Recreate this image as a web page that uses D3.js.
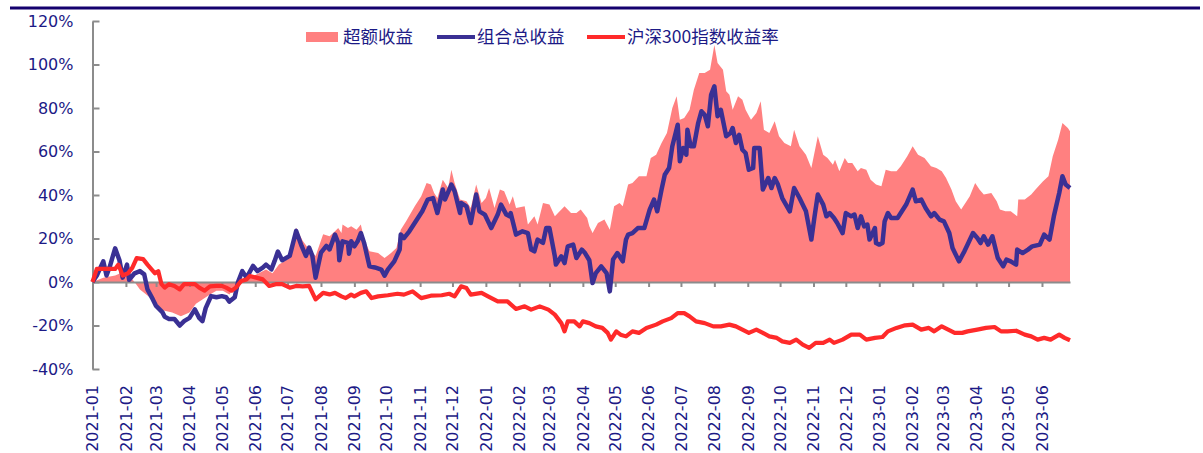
<!DOCTYPE html>
<html>
<head>
<meta charset="utf-8">
<script src="https://cdn.jsdelivr.net/npm/d3@7"></script>
<style>
  body { margin: 0; background: #fff; }
  #graphicContainer { width: 1203px; height: 453px; overflow: hidden; }
  .tickLabel { font-family: "DejaVu Sans", sans-serif; font-size: 16px; fill: #1c1a86; }
  .keyText { font-family: "Microsoft YaHei", "Noto Sans CJK SC", sans-serif; font-size: 17.5px; fill: #1c1a86; }
</style>
</head>
<body>
<div id="graphicContainer"></div>
<script>

// 超额收益 (area), %
const excess = [
  ["2021-01-01",0],["2021-01-11",2],["2021-01-22",3],["2021-01-29",4.5],["2021-02-04",3],["2021-02-09",0],
  ["2021-02-14",-3.4],["2021-02-23",-7],["2021-03-01",-9.5],["2021-03-07",-13],["2021-03-16",-14],["2021-03-24",-15.7],
  ["2021-04-01",-14],["2021-04-07",-10],["2021-04-13",-8],["2021-04-20",-5.7],["2021-04-26",-4],["2021-05-02",-4],
  ["2021-05-08",-5.7],["2021-05-14",-2],["2021-05-20",0],["2021-05-24",1],["2021-06-02",3.5],["2021-06-11",5.8],
  ["2021-06-17",4],["2021-06-23",8],["2021-07-03",11],["2021-07-09",25],["2021-07-15",19],["2021-07-21",15],
  ["2021-07-27",12],["2021-08-03",22],["2021-08-09",21],["2021-08-14",23.3],["2021-08-17",24.8],["2021-08-20",22.5],
  ["2021-08-21",26.4],["2021-08-26",24.8],["2021-08-29",25.6],["2021-09-03",24],["2021-09-07",26.4],["2021-09-10",19.5],
  ["2021-09-15",14.1],["2021-09-23",13.3],["2021-09-29",11],["2021-10-05",13.3],["2021-10-10",15.6],["2021-10-14",24],
  ["2021-10-19",27.9],["2021-10-27",34.8],["2021-11-02",39.4],["2021-11-07",45.5],["2021-11-11",44.8],["2021-11-14",40.9],
  ["2021-11-17",38.6],["2021-11-22",47],["2021-11-27",43.2],["2021-11-30",51.6],["2021-12-03",45.5],["2021-12-08",37.9],
  ["2021-12-14",37.1],["2021-12-18",34],["2021-12-23",44.8],["2021-12-28",36.3],["2022-01-01",38.6],["2022-01-04",43.2],
  ["2022-01-09",34],["2022-01-14",42.5],["2022-01-18",41.7],["2022-01-23",35.6],["2022-01-26",39.4],["2022-01-29",34],
  ["2022-02-06",34.8],["2022-02-09",26.4],["2022-02-15",30.2],["2022-02-18",26.4],["2022-02-23",36.3],["2022-03-01",35.6],
  ["2022-03-06",30.2],["2022-03-15",34.8],["2022-03-21",31.7],["2022-03-26",31.7],["2022-03-30",33.3],["2022-04-05",29.4],
  ["2022-04-07",25.6],["2022-04-10",22.5],["2022-04-15",27.1],["2022-04-21",28.7],["2022-04-26",24],["2022-04-30",34.8],
  ["2022-05-05",36.3],["2022-05-08",34.8],["2022-05-13",44.8],["2022-05-17",45.5],["2022-05-23",48.6],["2022-05-30",48.6],
  ["2022-06-03",57],["2022-06-08",58.5],["2022-06-13",63.9],["2022-06-18",68.5],["2022-06-23",80],["2022-06-27",85.4],
  ["2022-06-30",74.6],["2022-07-04",75.4],["2022-07-09",79.2],["2022-07-13",88.4],["2022-07-18",96.1],["2022-07-23",96.1],
  ["2022-07-28",97.6],["2022-08-01",109],["2022-08-04",100.7],["2022-08-09",97.6],["2022-08-12",87.7],["2022-08-15",86.1],
  ["2022-08-18",79.2],["2022-08-23",85.4],["2022-08-27",83.8],["2022-08-30",79.2],["2022-09-04",74.6],["2022-09-09",77.7],
  ["2022-09-13",83.1],["2022-09-16",70],["2022-09-21",68.5],["2022-09-26",73.9],["2022-09-30",67],["2022-10-05",63.9],
  ["2022-10-11",62.4],["2022-10-14",70],["2022-10-19",62.4],["2022-10-25",58.5],["2022-10-30",52.4],["2022-11-05",67],
  ["2022-11-10",58.5],["2022-11-14",57],["2022-11-19",53.9],["2022-11-21",56.2],["2022-11-25",50.9],["2022-11-30",57],
  ["2022-12-03",54.7],["2022-12-07",54.7],["2022-12-12",50.9],["2022-12-15",52.4],["2022-12-20",51.6],["2022-12-24",47],
  ["2022-12-29",44.8],["2023-01-03",44],["2023-01-07",51.6],["2023-01-12",50.9],["2023-01-17",50.9],["2023-01-21",53.2],
  ["2023-01-27",57.8],["2023-02-01",62.4],["2023-02-06",58.5],["2023-02-12",57],["2023-02-18",53.2],["2023-02-23",52.4],
  ["2023-02-28",50.9],["2023-03-04",47.8],["2023-03-09",42.5],["2023-03-13",37.1],["2023-03-18",33.3],["2023-03-23",37.1],
  ["2023-03-26",39.4],["2023-03-31",45.5],["2023-04-04",42.5],["2023-04-08",40.2],["2023-04-15",40.9],["2023-04-20",37.1],
  ["2023-04-23",33.3],["2023-04-28",32.5],["2023-05-03",32.5],["2023-05-09",30.2],["2023-05-10",37.9],["2023-05-16",37.9],
  ["2023-05-22",40.2],["2023-05-26",42.5],["2023-06-02",46.3],["2023-06-07",48.6],["2023-06-11",57.8],["2023-06-16",65.4],
  ["2023-06-20",73.1],["2023-06-25",70.8],["2023-06-27",69.3]
]

// 组合总收益, %
const portfolio = [
  ["2021-01-01",0],["2021-01-05",3],["2021-01-11",9.5],["2021-01-14",3],["2021-01-17",7],["2021-01-22",15.5],
  ["2021-01-26",10],["2021-01-29",2],["2021-02-02",8],["2021-02-04",1],["2021-02-09",4],["2021-02-14",5],
  ["2021-02-18",3.5],["2021-02-21",-3.4],["2021-02-26",-8],["2021-03-01",-11],["2021-03-07",-14],["2021-03-09",-16],
  ["2021-03-13",-17],["2021-03-18",-17],["2021-03-23",-20],["2021-03-27",-18],["2021-04-01",-16.5],["2021-04-06",-12.6],
  ["2021-04-10",-16.5],["2021-04-13",-18],["2021-04-16",-12],["2021-04-21",-6.5],["2021-04-26",-7],["2021-05-01",-6.5],
  ["2021-05-05",-7],["2021-05-08",-9],["2021-05-13",-7],["2021-05-16",0],["2021-05-20",5],["2021-05-24",2],
  ["2021-05-30",7.4],["2021-06-03",5],["2021-06-08",6.6],["2021-06-11",8],["2021-06-16",5.8],["2021-06-19",9.7],
  ["2021-06-22",14],["2021-06-26",10],["2021-07-03",12],["2021-07-09",23.5],["2021-07-14",16.6],["2021-07-18",12],
  ["2021-07-21",15.8],["2021-07-24",12],["2021-07-27",2],["2021-08-01",13.5],["2021-08-06",16.6],["2021-08-09",15],
  ["2021-08-14",21.8],["2021-08-17",18],["2021-08-18",10],["2021-08-21",18.7],["2021-08-26",18],["2021-08-27",13],
  ["2021-08-29",18.7],["2021-09-01",16.4],["2021-09-04",18.7],["2021-09-07",22.5],["2021-09-10",18],["2021-09-15",7.2],
  ["2021-09-20",6.7],["2021-09-26",5.7],["2021-09-29",2.9],["2021-10-02",5.7],["2021-10-08",9.5],["2021-10-13",14.9],
  ["2021-10-14",21.8],["2021-10-17",20.2],["2021-10-22",23.3],["2021-10-28",27.9],["2021-10-31",30.2],["2021-11-03",32.5],
  ["2021-11-08",37.9],["2021-11-13",38.6],["2021-11-17",31.7],["2021-11-22",42.5],["2021-11-24",37.9],["2021-11-30",44.8],
  ["2021-12-03",41.7],["2021-12-08",31.7],["2021-12-09",36.3],["2021-12-14",34.8],["2021-12-18",27.1],["2021-12-23",40.2],
  ["2021-12-26",32.5],["2021-12-31",31],["2022-01-06",24.8],["2022-01-12",31],["2022-01-15",35.6],["2022-01-20",31],
  ["2022-01-23",30.2],["2022-01-24",31.7],["2022-01-29",21.8],["2022-02-04",23.3],["2022-02-09",22.5],["2022-02-12",14.9],
  ["2022-02-15",14.1],["2022-02-18",19.5],["2022-02-23",18],["2022-02-26",24.8],["2022-03-01",24.8],["2022-03-06",11.8],
  ["2022-03-07",8],["2022-03-12",11.8],["2022-03-15",8.7],["2022-03-18",16.4],["2022-03-23",17.2],["2022-03-26",11],
  ["2022-03-31",14.9],["2022-04-03",13.3],["2022-04-07",10],["2022-04-10",-0.5],["2022-04-13",4.1],["2022-04-18",7.2],
  ["2022-04-23",4.1],["2022-04-26",-4.3],["2022-04-29",10.3],["2022-05-03",13.3],["2022-05-08",9.5],["2022-05-11",19.5],
  ["2022-05-13",21.8],["2022-05-17",22.5],["2022-05-22",24.8],["2022-05-28",24.8],["2022-06-02",33.3],["2022-06-06",37.9],
  ["2022-06-09",32.5],["2022-06-13",42.5],["2022-06-16",49.3],["2022-06-20",52.4],["2022-06-23",62.4],["2022-06-28",72.3],
  ["2022-06-30",55.5],["2022-07-03",61.6],["2022-07-06",58.5],["2022-07-07",70],["2022-07-10",62.4],["2022-07-13",62.4],
  ["2022-07-17",73.1],["2022-07-20",78.5],["2022-07-23",76.9],["2022-07-26",71.6],["2022-07-29",86.1],["2022-08-01",90],
  ["2022-08-04",76.2],["2022-08-07",79.2],["2022-08-12",67],["2022-08-16",68.5],["2022-08-18",70.8],["2022-08-21",63.9],
  ["2022-08-24",67.7],["2022-08-27",60.8],["2022-08-30",59.3],["2022-09-02",51.6],["2022-09-06",52.4],["2022-09-07",61.6],
  ["2022-09-12",61.6],["2022-09-15",42.5],["2022-09-20",47.8],["2022-09-23",43.2],["2022-09-26",47.8],["2022-09-29",44.8],
  ["2022-10-03",38.6],["2022-10-10",32.5],["2022-10-14",43.2],["2022-10-19",38.6],["2022-10-25",32.5],["2022-10-30",19.5],
  ["2022-11-02",30.2],["2022-11-05",40.2],["2022-11-10",35.6],["2022-11-13",30.2],["2022-11-16",31.7],["2022-11-20",29.4],
  ["2022-11-23",27.1],["2022-11-28",22.5],["2022-12-01",31.7],["2022-12-06",30.2],["2022-12-09",31],["2022-12-12",24.8],
  ["2022-12-15",30.2],["2022-12-18",25.6],["2022-12-21",26.4],["2022-12-23",19.5],["2022-12-28",24.8],["2022-12-29",17.9],
  ["2023-01-01",17.2],["2023-01-04",17.9],["2023-01-06",27.9],["2023-01-09",31.7],["2023-01-12",29.4],["2023-01-18",29.4],
  ["2023-01-26",35.6],["2023-02-01",42.5],["2023-02-04",37.1],["2023-02-09",37.9],["2023-02-13",34],["2023-02-18",30.2],
  ["2023-02-21",31.7],["2023-02-26",28.7],["2023-03-02",27.9],["2023-03-07",22.5],["2023-03-10",15.6],["2023-03-16",9.5],
  ["2023-03-21",14.1],["2023-03-24",17.2],["2023-03-29",22.5],["2023-04-02",20.2],["2023-04-05",17.9],["2023-04-08",21],
  ["2023-04-12",17.2],["2023-04-16",21],["2023-04-21",11],["2023-04-26",7.2],["2023-04-29",10.3],["2023-05-03",9.5],
  ["2023-05-08",8],["2023-05-09",14.9],["2023-05-14",13.3],["2023-05-19",14.9],["2023-05-23",16.4],["2023-05-30",17.2],
  ["2023-06-03",21.8],["2023-06-08",19.5],["2023-06-12",30.2],["2023-06-17",40.9],["2023-06-20",48.6],["2023-06-23",44.8],
  ["2023-06-27",43.2]
]

// 沪深300指数收益率, %
const csi300 = [
  ["2021-01-01",0],["2021-01-05",6],["2021-01-11",6],["2021-01-15",6],["2021-01-22",6],["2021-01-25",8],
  ["2021-01-29",3],["2021-02-03",4],["2021-02-07",6.6],["2021-02-11",11],["2021-02-17",10.5],["2021-02-21",8],
  ["2021-02-28",4],["2021-03-03",5],["2021-03-06",-1],["2021-03-09",-2.6],["2021-03-13",-1],["2021-03-18",-1.8],
  ["2021-03-23",-3.4],["2021-03-27",-1],["2021-04-01",-1],["2021-04-06",-1],["2021-04-10",-2.6],["2021-04-15",-4],
  ["2021-04-20",-2],["2021-04-26",-1.8],["2021-05-01",-1.8],["2021-05-05",-2.6],["2021-05-10",-4],["2021-05-14",-2.6],
  ["2021-05-19",0.5],["2021-05-24",1.2],["2021-05-27",2.8],["2021-06-02",2],["2021-06-08",1.2],["2021-06-14",-1.8],
  ["2021-06-20",-1],["2021-06-26",-1],["2021-07-03",-2.6],["2021-07-09",-1.8],["2021-07-15",-2],["2021-07-21",-1.8],
  ["2021-07-27",-8],["2021-08-03",-5],["2021-08-09",-5.7],["2021-08-14",-5],["2021-08-20",-6.6],["2021-08-24",-7.4],
  ["2021-08-29",-5.8],["2021-09-01",-6.6],["2021-09-07",-5],["2021-09-12",-4.3],["2021-09-17",-7.4],["2021-09-23",-6.6],
  ["2021-10-02",-6.1],["2021-10-11",-5.4],["2021-10-17",-5.8],["2021-10-25",-4.3],["2021-11-02",-7.4],["2021-11-11",-6.3],
  ["2021-11-21",-6.1],["2021-11-28",-5.4],["2021-12-03",-6.6],["2021-12-09",-2],["2021-12-14",-2.8],["2021-12-18",-5.8],
  ["2021-12-28",-5],["2022-01-03",-6.6],["2022-01-12",-8.9],["2022-01-21",-8.9],["2022-01-29",-12.4],["2022-02-06",-11.2],
  ["2022-02-12",-12.7],["2022-02-20",-11.2],["2022-02-28",-12.7],["2022-03-06",-15],["2022-03-12",-18.9],["2022-03-15",-22.7],
  ["2022-03-18",-18.1],["2022-03-24",-18.1],["2022-03-29",-20.4],["2022-04-01",-18.1],["2022-04-07",-18.9],["2022-04-13",-20.4],
  ["2022-04-19",-21.1],["2022-04-24",-23.4],["2022-04-27",-26.5],["2022-05-02",-22.7],["2022-05-06",-24.2],["2022-05-11",-25],
  ["2022-05-17",-22.7],["2022-05-23",-23.4],["2022-05-30",-21.1],["2022-06-08",-19.6],["2022-06-14",-18.1],["2022-06-22",-16.6],
  ["2022-06-28",-14.3],["2022-07-04",-14.3],["2022-07-09",-15.8],["2022-07-15",-18.1],["2022-07-23",-18.9],["2022-07-31",-20.4],
  ["2022-08-07",-20.4],["2022-08-15",-19.6],["2022-08-21",-20.4],["2022-08-27",-21.9],["2022-09-02",-23.4],["2022-09-09",-21.9],
  ["2022-09-15",-23.4],["2022-09-21",-25],["2022-09-28",-25.7],["2022-10-03",-27.3],["2022-10-10",-28],["2022-10-16",-26.5],
  ["2022-10-22",-28.8],["2022-10-28",-30.3],["2022-11-03",-28],["2022-11-10",-28],["2022-11-16",-26.5],["2022-11-20",-28],
  ["2022-11-28",-26.5],["2022-12-06",-24.2],["2022-12-14",-24.2],["2022-12-20",-26.5],["2022-12-28",-25.7],["2023-01-04",-25.3],
  ["2023-01-09",-22.7],["2023-01-17",-21.1],["2023-01-25",-19.9],["2023-02-01",-19.6],["2023-02-09",-21.9],["2023-02-16",-21.1],
  ["2023-02-21",-22.7],["2023-02-28",-20.4],["2023-03-06",-21.9],["2023-03-12",-23.4],["2023-03-19",-23.4],["2023-03-24",-22.7],
  ["2023-04-02",-21.9],["2023-04-10",-21.1],["2023-04-18",-20.7],["2023-04-24",-22.7],["2023-04-30",-22.7],["2023-05-08",-22.4],
  ["2023-05-16",-24.2],["2023-05-22",-25],["2023-05-28",-26.5],["2023-06-03",-25.7],["2023-06-09",-26.5],["2023-06-17",-24.2],
  ["2023-06-22",-25.7],["2023-06-27",-26.8]
]

const yTicks = [-40, -20, 0, 20, 40, 60, 80, 100, 120]
const dateRange = ["2021-01-01", "2023-06-27"]
const seriesNames = ["超额收益", "组合总收益", "沪深300指数收益率"]

const colors = { excess: "#ff8080", portfolio: "#3a3094", csi300: "#ff2a2a" }
const axisGrey = "#8c8c8c"

const parseDate = d3.timeParse("%Y-%m-%d")
const toPoints = (arr) => arr.map(d => ({ date: parseDate(d[0]), value: d[1] }))

const width = 1203
const height = 453

const svg = d3.select("#graphicContainer").append("svg")
  .attr("width", width)
  .attr("height", height)

// top rule
svg.append("line")
  .attr("x1", 10).attr("x2", 1200)
  .attr("y1", 8).attr("y2", 8)
  .attr("stroke", "#14006e")
  .attr("stroke-width", 3)

const x = d3.scaleTime()
  .domain(dateRange.map(parseDate))
  .range([92.5, 1070])

const y = d3.scaleLinear()
  .domain([-40, 120])
  .range([369, 21])

const area = d3.area()
  .x(d => x(d.date))
  .y0(y(0))
  .y1(d => y(d.value))

const line = d3.line()
  .x(d => x(d.date))
  .y(d => y(d.value))

svg.append("path")
  .datum(toPoints(excess))
  .attr("d", area)
  .attr("fill", colors.excess)

// y axis, ticks pointing inward
const yAxis = svg.append("g")
  .attr("transform", "translate(92.5,0)")
  .call(d3.axisLeft(y).tickValues(yTicks).tickSize(-7).tickSizeOuter(0).tickPadding(19).tickFormat(d => d + "%"))

yAxis.select(".domain").attr("stroke", axisGrey).attr("stroke-width", 2)
yAxis.selectAll(".tick line").attr("stroke", axisGrey).attr("stroke-width", 2)
yAxis.selectAll(".tick text")
  .attr("class", "tickLabel")
  .attr("font-size", null)
  .attr("font-family", null)
  .attr("fill", null)

// x axis along the zero line
const xAxis = svg.append("g")
  .attr("transform", `translate(0,${y(0)})`)
  .call(d3.axisBottom(x).ticks(d3.timeMonth.every(1)).tickSize(5).tickSizeOuter(0).tickFormat(""))

xAxis.select(".domain").attr("stroke", axisGrey).attr("stroke-width", 2)
xAxis.selectAll(".tick line").attr("stroke", axisGrey).attr("stroke-width", 2)

const months = x.ticks(d3.timeMonth.every(1)).filter(d => d < x.domain()[1])

svg.append("g")
  .selectAll("text")
  .data(months)
  .enter()
  .append("text")
  .attr("class", "tickLabel")
  .attr("transform", d => `translate(${x(d)},385) rotate(-90)`)
  .attr("text-anchor", "end")
  .attr("dy", "0.36em")
  .text(d3.timeFormat("%Y-%m"))

svg.append("path")
  .datum(toPoints(portfolio))
  .attr("d", line)
  .attr("fill", "none")
  .attr("stroke", colors.portfolio)
  .attr("stroke-width", 4.5)
  .attr("stroke-linejoin", "round")

svg.append("path")
  .datum(toPoints(csi300))
  .attr("d", line)
  .attr("fill", "none")
  .attr("stroke", colors.csi300)
  .attr("stroke-width", 4.2)
  .attr("stroke-linejoin", "round")

// legend
const legend = svg.append("g")

legend.append("rect")
  .attr("x", 306).attr("y", 32)
  .attr("width", 32).attr("height", 10)
  .attr("fill", colors.excess)

legend.append("line")
  .attr("x1", 437).attr("x2", 475)
  .attr("y1", 37).attr("y2", 37)
  .attr("stroke", colors.portfolio)
  .attr("stroke-width", 4)

legend.append("line")
  .attr("x1", 587).attr("x2", 625)
  .attr("y1", 37).attr("y2", 37)
  .attr("stroke", colors.csi300)
  .attr("stroke-width", 4)

const keyX = [343, 477, 627]

legend.selectAll(".keyText")
  .data(seriesNames)
  .enter()
  .append("text")
  .attr("class", "keyText")
  .attr("x", (d, i) => keyX[i])
  .attr("y", 37)
  .attr("dy", "0.36em")
  .text(d => d)

</script>
</body>
</html>
